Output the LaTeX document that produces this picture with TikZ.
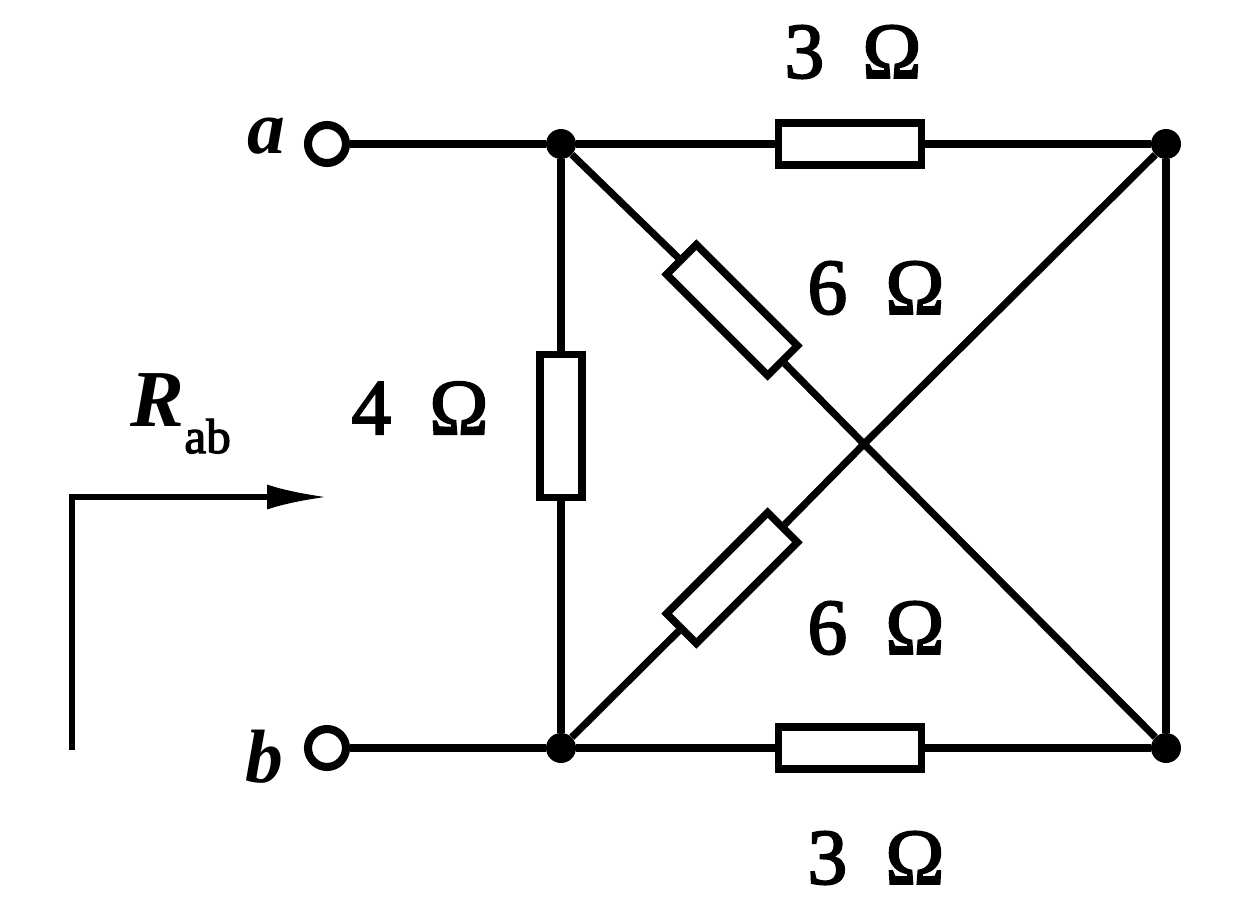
\documentclass[tikz,border=0pt]{standalone}
\usepackage{fontspec}
\setmainfont{Liberation Serif}
\newfontfamily\valfont[FakeBold=2.5]{Liberation Serif}
\usetikzlibrary{arrows.meta}

\tikzset{
  wire/.style={line width=4.1pt},
  res/.style={draw, line width=4.3pt, fill=white, minimum width=2.86cm, minimum height=0.84cm, inner sep=0pt},
  junction/.style={circle, fill=black, inner sep=0pt, minimum size=0.6cm},
  terminal/.style={circle, draw, line width=4.6pt, fill=white, inner sep=0pt, minimum size=0.76cm},
  val/.style={font=\fontsize{45}{45}\valfont, inner sep=0pt},
  term/.style={font=\fontsize{43}{43}\selectfont\bfseries\itshape, inner sep=0pt}
}

\begin{document}
\begin{tikzpicture}[x=0.02cm, y=-0.02cm, line cap=butt, line join=miter]
  \useasboundingbox (0,0) rectangle (1260,902);

  % terminals and junctions
  \node[terminal] (a) at (327,144) {};
  \node[terminal] (b) at (327,748) {};
  \node[junction] (tl) at (561,144) {};
  \node[junction] (tr) at (1166,144) {};
  \node[junction] (bl) at (561,748) {};
  \node[junction] (br) at (1166,748) {};
  \coordinate (x) at (864,444);

  % resistors
  \node[res] (r3t) at (850,144) {};
  \node[res] (r3b) at (850,748) {};
  \node[res, rotate=90] (r4) at (561,426) {};
  \node[res, rotate=-45] (r6t) at (732,310) {};
  \node[res, rotate=45] (r6b) at (732,578) {};

  % wires
  \draw[wire] (a) -- (tl) -- (r3t) -- (tr) -- (br);
  \draw[wire] (b) -- (bl) -- (r3b) -- (br);
  \draw[wire] (tl) -- (r4) -- (bl);
  \draw[wire] (tl) -- (r6t) -- (x) -- (br);
  \draw[wire] (bl) -- (r6b) -- (x) -- (tr);

  % reference arrow
  \coordinate (s) at (72,750);
  \coordinate (c) at (72,497);
  \coordinate (e) at (327,497);
  \draw[line width=3pt, -{Latex[length=1.2cm, width=0.5cm]}] (s) -- (c) -- (e);

  % labels
  \node[term] (la) at (266,136) {a};
  \node[term] (lb) at (264,757) {b};
  \node[val] (v3t) at (853,52) {3\,\,$\;$Ω};
  \node[val] (v6t) at (876,288) {6\,\,$\;$Ω};
  \node[val] (v4) at (420,408) {4\,\,$\;$Ω};
  \node[val] (v6b) at (876,628) {6\,\,$\;$Ω};
  \node[val] (v3b) at (876,858) {3\,\,$\;$Ω};
  \node[font=\fontsize{46}{46}\selectfont\bfseries\itshape, anchor=base west, inner sep=0pt] (lr) at (130,426) {R};
  \node[font=\fontsize{28}{28}\valfont, anchor=base west, inner sep=0pt] (lab) at (184,453) {ab};
\end{tikzpicture}
\end{document}
